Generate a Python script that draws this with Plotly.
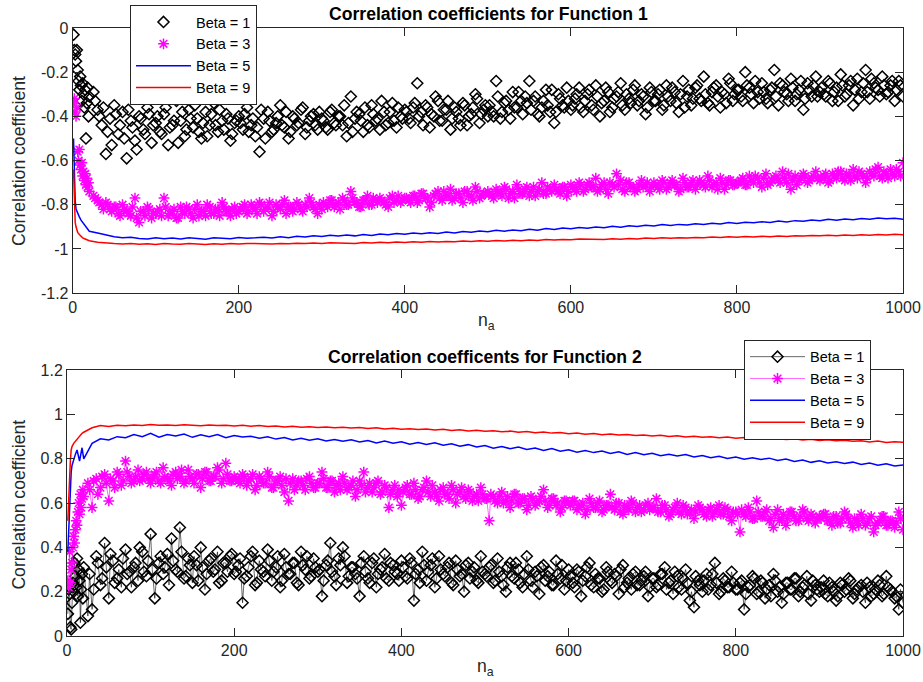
import plotly.graph_objects as go

# ---------------- data ----------------
NA_SCATTER = list(range(1, 21)) + list(range(25, 1001, 5))
NA_SCATTER_MID = list(range(27, 1001, 5))
NA_LINE = [1, 2, 3, 4, 5, 6, 8, 10, 12, 15, 18, 20] + list(range(30, 1001, 10))

F1_BETA1 = [
    -0.03, -0.10, -0.12, -0.15, -0.10, -0.19, -0.24, -0.28, -0.22, -0.26, -0.33, -0.25, -0.30, -0.36, -0.28, -0.50, -0.34, -0.27, -0.40, -0.31,
    -0.29, -0.37, -0.44, -0.57, -0.41, -0.35, -0.48, -0.38, -0.59, -0.42, -0.51, -0.40, -0.46, -0.36, -0.52, -0.43,
    -0.47, -0.39, -0.53, -0.44, -0.33, -0.42, -0.49, -0.37, -0.45, -0.41, -0.50, -0.38, -0.44, -0.34, -0.47, -0.42, -0.39, -0.51, -0.43, -0.40,
    -0.46, -0.36, -0.44, -0.49, -0.56, -0.41, -0.38, -0.47, -0.43, -0.35, -0.45, -0.50, -0.40, -0.44, -0.37, -0.48, -0.42, -0.39, -0.46, -0.41,
    -0.45, -0.38, -0.43, -0.40, -0.44, -0.49, -0.31, -0.41, -0.39, -0.47, -0.44, -0.35, -0.42, -0.46, -0.38, -0.43, -0.34, -0.45, -0.40, -0.37,
    -0.41, -0.36, -0.25, -0.38, -0.35, -0.45, -0.40, -0.33, -0.42, -0.37, -0.46, -0.36, -0.41, -0.34, -0.44, -0.39, -0.30, -0.43, -0.37, -0.40,
    -0.38, -0.24, -0.41, -0.34, -0.37, -0.29, -0.36, -0.33, -0.31, -0.24, -0.33, -0.39, -0.36, -0.28, -0.38, -0.43, -0.30, -0.35, -0.27, -0.37,
    -0.32, -0.27, -0.38, -0.30, -0.35, -0.26, -0.40, -0.33, -0.29, -0.36, -0.31, -0.25, -0.37, -0.32, -0.28, -0.35, -0.30, -0.39, -0.27, -0.33,
    -0.30, -0.37, -0.26, -0.33, -0.29, -0.38, -0.24, -0.31, -0.35, -0.27, -0.32, -0.22, -0.34, -0.29, -0.26, -0.36, -0.30, -0.23, -0.33, -0.28,
    -0.31, -0.20, -0.27, -0.34, -0.29, -0.25, -0.32, -0.28, -0.19, -0.35, -0.26, -0.30, -0.23, -0.33, -0.28, -0.37, -0.25, -0.31, -0.22, -0.29,
    -0.30, -0.24, -0.33, -0.27, -0.21, -0.31, -0.26, -0.35, -0.23, -0.29, -0.19, -0.32, -0.25, -0.28, -0.22, -0.30, -0.26, -0.33, -0.24, -0.31,
]
F1_BETA1_MID = [
    -0.33, -0.40, -0.36, -0.47, -0.53, -0.39, -0.44, -0.50, -0.37, -0.45, -0.55, -0.41, -0.48, -0.39, -0.44,
    -0.40, -0.48, -0.36, -0.45, -0.42, -0.52, -0.38, -0.46, -0.41, -0.35, -0.47, -0.43, -0.49, -0.39, -0.44, -0.37, -0.46, -0.41, -0.48, -0.42,
    -0.43, -0.39, -0.47, -0.41, -0.45, -0.37, -0.50, -0.42, -0.46, -0.40, -0.44, -0.38, -0.47, -0.41, -0.43, -0.36, -0.45, -0.40, -0.44, -0.38,
    -0.42, -0.46, -0.37, -0.44, -0.40, -0.35, -0.43, -0.47, -0.38, -0.42, -0.36, -0.45, -0.39, -0.41, -0.33, -0.44, -0.38, -0.42, -0.36, -0.41,
    -0.38, -0.43, -0.34, -0.40, -0.44, -0.36, -0.39, -0.31, -0.42, -0.37, -0.33, -0.41, -0.38, -0.44, -0.35, -0.40, -0.36, -0.32, -0.39, -0.35,
    -0.35, -0.40, -0.31, -0.38, -0.33, -0.41, -0.36, -0.29, -0.39, -0.34, -0.37, -0.31, -0.40, -0.33, -0.35, -0.28, -0.38, -0.32, -0.36, -0.33,
    -0.35, -0.30, -0.36, -0.33, -0.28, -0.37, -0.31, -0.34, -0.27, -0.38, -0.32, -0.29, -0.35, -0.30, -0.34, -0.26, -0.33, -0.31, -0.36, -0.29,
    -0.33, -0.28, -0.35, -0.31, -0.27, -0.34, -0.30, -0.36, -0.28, -0.32, -0.26, -0.33, -0.30, -0.35, -0.27, -0.31, -0.29, -0.34, -0.25, -0.30,
    -0.28, -0.33, -0.26, -0.30, -0.24, -0.32, -0.29, -0.34, -0.27, -0.31, -0.25, -0.29, -0.33, -0.27, -0.30, -0.24, -0.32, -0.28, -0.26, -0.31,
    -0.27, -0.31, -0.25, -0.29, -0.33, -0.26, -0.30, -0.24, -0.28, -0.32, -0.25, -0.29, -0.23, -0.27, -0.31, -0.26, -0.29, -0.24, -0.28, -0.26,
]

F1_BETA3 = [
    -0.34, -0.32, -0.38, -0.40, -0.36, -0.56, -0.60, -0.55, -0.62, -0.64, -0.61, -0.67, -0.65, -0.69, -0.66, -0.71, -0.68, -0.72, -0.70, -0.74,
    -0.76, -0.78, -0.80, -0.79, -0.82, -0.81, -0.84, -0.80, -0.83, -0.85, -0.77, -0.88, -0.83, -0.81, -0.86, -0.84,
    -0.82, -0.77, -0.85, -0.83, -0.86, -0.81, -0.84, -0.82, -0.86, -0.80, -0.83, -0.85, -0.81, -0.84, -0.82, -0.79, -0.83, -0.85, -0.81, -0.83,
    -0.81, -0.84, -0.80, -0.82, -0.79, -0.83, -0.81, -0.85, -0.80, -0.82, -0.78, -0.81, -0.83, -0.79, -0.82, -0.80, -0.77, -0.81, -0.84, -0.82,
    -0.80, -0.78, -0.81, -0.79, -0.77, -0.80, -0.74, -0.79, -0.81, -0.78, -0.76, -0.80, -0.78, -0.77, -0.79, -0.81, -0.76, -0.78, -0.79, -0.77,
    -0.78, -0.76, -0.79, -0.75, -0.77, -0.81, -0.76, -0.74, -0.78, -0.76, -0.73, -0.77, -0.75, -0.79, -0.74, -0.76, -0.72, -0.77, -0.75, -0.74,
    -0.76, -0.73, -0.75, -0.72, -0.77, -0.74, -0.71, -0.75, -0.73, -0.76, -0.72, -0.74, -0.70, -0.75, -0.73, -0.71, -0.74, -0.72, -0.76, -0.71,
    -0.73, -0.70, -0.74, -0.71, -0.72, -0.68, -0.73, -0.70, -0.75, -0.71, -0.66, -0.69, -0.74, -0.70, -0.72, -0.73, -0.69, -0.71, -0.74, -0.70,
    -0.72, -0.69, -0.73, -0.70, -0.71, -0.74, -0.68, -0.72, -0.70, -0.73, -0.69, -0.71, -0.67, -0.72, -0.70, -0.68, -0.73, -0.69, -0.71, -0.70,
    -0.69, -0.71, -0.67, -0.70, -0.68, -0.72, -0.66, -0.70, -0.68, -0.69, -0.65, -0.70, -0.73, -0.67, -0.69, -0.66, -0.70, -0.68, -0.65, -0.69,
    -0.67, -0.70, -0.66, -0.68, -0.65, -0.69, -0.67, -0.64, -0.68, -0.66, -0.70, -0.65, -0.67, -0.63, -0.68, -0.66, -0.64, -0.67, -0.65, -0.61,
]
F1_BETA3_MID = [
    -0.77, -0.79, -0.82, -0.80, -0.83, -0.81, -0.85, -0.82, -0.84, -0.81, -0.86, -0.83, -0.85, -0.82, -0.84,
    -0.83, -0.85, -0.81, -0.84, -0.82, -0.86, -0.83, -0.81, -0.84, -0.82, -0.85, -0.83, -0.80, -0.84, -0.82, -0.85, -0.81, -0.83, -0.82, -0.84,
    -0.82, -0.80, -0.83, -0.81, -0.84, -0.80, -0.82, -0.79, -0.83, -0.81, -0.80, -0.84, -0.81, -0.82, -0.80, -0.83, -0.81, -0.79, -0.82, -0.80,
    -0.79, -0.81, -0.78, -0.80, -0.82, -0.78, -0.80, -0.77, -0.79, -0.81, -0.78, -0.80, -0.77, -0.79, -0.78, -0.80, -0.77, -0.79, -0.76, -0.78,
    -0.77, -0.79, -0.76, -0.78, -0.75, -0.77, -0.79, -0.75, -0.77, -0.74, -0.76, -0.78, -0.75, -0.77, -0.74, -0.76, -0.78, -0.74, -0.76, -0.75,
    -0.75, -0.77, -0.74, -0.76, -0.73, -0.75, -0.77, -0.73, -0.75, -0.72, -0.74, -0.76, -0.73, -0.75, -0.72, -0.74, -0.73, -0.75, -0.72, -0.74,
    -0.72, -0.74, -0.71, -0.73, -0.70, -0.72, -0.74, -0.71, -0.73, -0.70, -0.72, -0.71, -0.73, -0.70, -0.72, -0.74, -0.71, -0.72, -0.70, -0.72,
    -0.71, -0.73, -0.70, -0.72, -0.69, -0.71, -0.73, -0.70, -0.72, -0.69, -0.71, -0.70, -0.72, -0.69, -0.71, -0.73, -0.70, -0.71, -0.69, -0.71,
    -0.70, -0.68, -0.71, -0.69, -0.67, -0.70, -0.68, -0.71, -0.69, -0.67, -0.70, -0.68, -0.66, -0.69, -0.71, -0.68, -0.67, -0.69, -0.67, -0.68,
    -0.68, -0.66, -0.69, -0.67, -0.65, -0.68, -0.66, -0.69, -0.67, -0.65, -0.67, -0.68, -0.66, -0.64, -0.67, -0.65, -0.68, -0.66, -0.64, -0.67,
]

F1_BETA5 = [
    -0.50, -0.68, -0.78, -0.82, -0.83, -0.84, -0.855, -0.87, -0.88, -0.90, -0.915, -0.92,
    -0.928, -0.938, -0.945, -0.950, -0.947, -0.953, -0.955, -0.949, -0.954, -0.951,
    -0.955, -0.950, -0.953, -0.956, -0.949, -0.952, -0.954, -0.948, -0.952, -0.950,
    -0.947, -0.951, -0.945, -0.949, -0.943, -0.946, -0.940, -0.944, -0.938, -0.942,
    -0.937, -0.941, -0.935, -0.939, -0.933, -0.936, -0.930, -0.934, -0.928, -0.931,
    -0.927, -0.930, -0.924, -0.928, -0.921, -0.925, -0.919, -0.922, -0.916, -0.920,
    -0.914, -0.918, -0.911, -0.915, -0.908, -0.912, -0.905, -0.909, -0.903, -0.906,
    -0.901, -0.904, -0.898, -0.902, -0.895, -0.899, -0.893, -0.896, -0.890, -0.894,
    -0.889, -0.892, -0.886, -0.890, -0.884, -0.887, -0.881, -0.885, -0.879, -0.882,
    -0.877, -0.880, -0.874, -0.878, -0.872, -0.875, -0.869, -0.873, -0.866, -0.870,
    -0.865, -0.868, -0.862, -0.866, -0.860, -0.864, -0.861, -0.866,
]

F1_BETA9 = [
    -0.64, -0.80, -0.88, -0.90, -0.915, -0.925, -0.935, -0.945, -0.95, -0.955, -0.96, -0.963,
    -0.970, -0.974, -0.976, -0.978, -0.975, -0.979, -0.977, -0.980, -0.976, -0.978,
    -0.979, -0.976, -0.978, -0.980, -0.977, -0.979, -0.976, -0.978, -0.975, -0.977,
    -0.976, -0.978, -0.975, -0.977, -0.974, -0.976, -0.973, -0.975, -0.972, -0.974,
    -0.973, -0.975, -0.971, -0.973, -0.970, -0.972, -0.969, -0.971, -0.968, -0.970,
    -0.967, -0.969, -0.966, -0.968, -0.964, -0.966, -0.963, -0.965, -0.962, -0.964,
    -0.961, -0.963, -0.960, -0.962, -0.958, -0.960, -0.957, -0.959, -0.955, -0.957,
    -0.956, -0.958, -0.954, -0.956, -0.953, -0.955, -0.951, -0.953, -0.950, -0.952,
    -0.949, -0.951, -0.948, -0.950, -0.946, -0.948, -0.945, -0.947, -0.944, -0.946,
    -0.943, -0.945, -0.942, -0.944, -0.940, -0.942, -0.939, -0.941, -0.938, -0.940,
    -0.937, -0.939, -0.936, -0.938, -0.935, -0.937, -0.934, -0.936,
]

F2_BETA1 = [
    0.10, 0.21, 0.19, 0.04, 0.03, 0.15, 0.24, 0.20, 0.33, 0.27, 0.22, 0.35, 0.18, 0.30, 0.25, 0.06, 0.21, 0.28, 0.17, 0.31,
    0.09, 0.12, 0.36, 0.23, 0.42, 0.17, 0.34, 0.26, 0.22, 0.39, 0.29, 0.31, 0.25, 0.38, 0.27, 0.46,
    0.17, 0.33, 0.28, 0.37, 0.44, 0.30, 0.49, 0.26, 0.35, 0.24, 0.32, 0.40, 0.21, 0.34, 0.29, 0.38, 0.25, 0.33, 0.36, 0.28,
    0.32, 0.15, 0.27, 0.36, 0.23, 0.34, 0.29, 0.39, 0.25, 0.31, 0.22, 0.37, 0.28, 0.33, 0.24, 0.38, 0.30, 0.26, 0.35, 0.29,
    0.18, 0.32, 0.42, 0.27, 0.35, 0.40, 0.24, 0.31, 0.28, 0.18, 0.36, 0.26, 0.33, 0.22, 0.30, 0.37, 0.25, 0.32, 0.28, 0.34,
    0.27, 0.35, 0.16, 0.30, 0.38, 0.25, 0.32, 0.22, 0.36, 0.28, 0.31, 0.24, 0.34, 0.27, 0.20, 0.33, 0.29, 0.25, 0.36, 0.28,
    0.31, 0.24, 0.35, 0.27, 0.20, 0.33, 0.26, 0.30, 0.22, 0.36, 0.25, 0.29, 0.19, 0.32, 0.27, 0.23, 0.34, 0.26, 0.21, 0.30,
    0.24, 0.30, 0.18, 0.27, 0.33, 0.22, 0.26, 0.20, 0.31, 0.25, 0.28, 0.19, 0.32, 0.24, 0.21, 0.29, 0.23, 0.27, 0.18, 0.26,
    0.22, 0.28, 0.31, 0.24, 0.19, 0.27, 0.21, 0.30, 0.16, 0.13, 0.25, 0.20, 0.28, 0.23, 0.33, 0.19, 0.26, 0.22, 0.29, 0.21,
    0.24, 0.12, 0.22, 0.27, 0.19, 0.25, 0.17, 0.23, 0.28, 0.20, 0.15, 0.24, 0.21, 0.26, 0.18, 0.22, 0.27, 0.16, 0.23, 0.20,
    0.25, 0.18, 0.22, 0.16, 0.24, 0.20, 0.26, 0.17, 0.21, 0.23, 0.15, 0.22, 0.19, 0.25, 0.18, 0.27, 0.21, 0.17, 0.12, 0.15,
]
F2_BETA1_MID = [
    0.28, 0.21, 0.33, 0.26, 0.31, 0.37, 0.24, 0.30, 0.35, 0.28, 0.22, 0.33, 0.40, 0.29, 0.34,
    0.30, 0.26, 0.36, 0.31, 0.23, 0.34, 0.29, 0.38, 0.27, 0.32, 0.36, 0.25, 0.31, 0.28, 0.35, 0.30, 0.24, 0.33, 0.29, 0.37,
    0.29, 0.35, 0.26, 0.31, 0.38, 0.24, 0.30, 0.27, 0.34, 0.29, 0.36, 0.25, 0.31, 0.28, 0.33, 0.23, 0.32, 0.36, 0.27, 0.31,
    0.30, 0.25, 0.34, 0.29, 0.23, 0.32, 0.36, 0.27, 0.31, 0.26, 0.33, 0.29, 0.24, 0.35, 0.28, 0.31, 0.26, 0.33, 0.29, 0.25,
    0.31, 0.26, 0.33, 0.28, 0.24, 0.32, 0.29, 0.35, 0.26, 0.30, 0.27, 0.33, 0.23, 0.30, 0.28, 0.32, 0.26, 0.31, 0.24, 0.29,
    0.27, 0.32, 0.25, 0.29, 0.23, 0.31, 0.27, 0.33, 0.24, 0.28, 0.30, 0.22, 0.27, 0.31, 0.25, 0.29, 0.23, 0.28, 0.32, 0.25,
    0.27, 0.22, 0.29, 0.25, 0.31, 0.23, 0.28, 0.26, 0.21, 0.29, 0.24, 0.27, 0.30, 0.22, 0.26, 0.28, 0.23, 0.25, 0.29, 0.22,
    0.26, 0.23, 0.28, 0.21, 0.25, 0.29, 0.22, 0.26, 0.24, 0.20, 0.27, 0.23, 0.25, 0.21, 0.28, 0.24, 0.20, 0.25, 0.22, 0.24,
    0.21, 0.25, 0.19, 0.23, 0.26, 0.20, 0.24, 0.21, 0.18, 0.25, 0.22, 0.19, 0.24, 0.21, 0.26, 0.20, 0.23, 0.19, 0.25, 0.21,
    0.22, 0.19, 0.24, 0.20, 0.18, 0.23, 0.21, 0.25, 0.19, 0.22, 0.20, 0.24, 0.18, 0.21, 0.23, 0.19, 0.22, 0.20, 0.18, 0.21,
]

F2_BETA3 = [
    0.25, 0.22, 0.38, 0.24, 0.30, 0.33, 0.40, 0.45, 0.42, 0.48, 0.52, 0.50, 0.56, 0.60, 0.55, 0.64, 0.58, 0.62, 0.66, 0.63,
    0.69, 0.58, 0.71, 0.67, 0.73, 0.61, 0.70, 0.74, 0.68, 0.79, 0.72, 0.70, 0.75, 0.71, 0.74, 0.69,
    0.73, 0.70, 0.76, 0.71, 0.68, 0.74, 0.72, 0.69, 0.75, 0.71, 0.73, 0.67, 0.74, 0.70, 0.72, 0.76, 0.69, 0.78, 0.70, 0.72,
    0.70, 0.73, 0.68, 0.71, 0.66, 0.72, 0.69, 0.74, 0.67, 0.70, 0.72, 0.65, 0.61, 0.71, 0.68, 0.70, 0.66, 0.72, 0.67, 0.69,
    0.74, 0.67, 0.70, 0.65, 0.69, 0.72, 0.66, 0.68, 0.63, 0.70, 0.74, 0.67, 0.65, 0.69, 0.64, 0.68, 0.58, 0.66, 0.63, 0.59,
    0.67, 0.64, 0.69, 0.62, 0.66, 0.70, 0.63, 0.65, 0.61, 0.67, 0.64, 0.68, 0.60, 0.65, 0.63, 0.66, 0.61, 0.64, 0.67, 0.62,
    0.52, 0.63, 0.60, 0.65, 0.61, 0.58, 0.64, 0.60, 0.62, 0.57, 0.63, 0.59, 0.61, 0.66, 0.58, 0.62, 0.59, 0.56, 0.61, 0.60,
    0.61, 0.57, 0.59, 0.55, 0.62, 0.58, 0.60, 0.56, 0.59, 0.64, 0.57, 0.60, 0.55, 0.58, 0.61, 0.56, 0.59, 0.57, 0.60, 0.58,
    0.62, 0.56, 0.59, 0.54, 0.57, 0.60, 0.55, 0.58, 0.56, 0.53, 0.59, 0.57, 0.54, 0.58, 0.56, 0.59, 0.55, 0.57, 0.52, 0.56,
    0.47, 0.55, 0.58, 0.53, 0.61, 0.54, 0.56, 0.52, 0.49, 0.57, 0.53, 0.50, 0.56, 0.54, 0.52, 0.57, 0.53, 0.55, 0.51, 0.54,
    0.55, 0.52, 0.50, 0.54, 0.51, 0.56, 0.53, 0.49, 0.52, 0.55, 0.50, 0.53, 0.47, 0.51, 0.54, 0.50, 0.52, 0.49, 0.56, 0.48,
]
F2_BETA3_MID = [
    0.66, 0.70, 0.64, 0.72, 0.69, 0.71, 0.67, 0.73, 0.70, 0.74, 0.69, 0.72, 0.70, 0.73, 0.71,
    0.71, 0.74, 0.69, 0.72, 0.70, 0.73, 0.71, 0.75, 0.70, 0.72, 0.69, 0.73, 0.71, 0.74, 0.70, 0.72, 0.75, 0.71, 0.73, 0.70,
    0.71, 0.69, 0.72, 0.70, 0.73, 0.68, 0.71, 0.69, 0.72, 0.67, 0.70, 0.68, 0.71, 0.69, 0.66, 0.70, 0.68, 0.71, 0.69, 0.67,
    0.69, 0.71, 0.67, 0.70, 0.68, 0.66, 0.69, 0.67, 0.70, 0.66, 0.68, 0.65, 0.69, 0.67, 0.70, 0.65, 0.67, 0.64, 0.68, 0.66,
    0.65, 0.68, 0.64, 0.66, 0.63, 0.67, 0.65, 0.68, 0.63, 0.66, 0.64, 0.62, 0.66, 0.64, 0.67, 0.62, 0.65, 0.63, 0.61, 0.64,
    0.62, 0.64, 0.61, 0.63, 0.60, 0.63, 0.61, 0.64, 0.60, 0.62, 0.59, 0.62, 0.60, 0.63, 0.61, 0.59, 0.62, 0.60, 0.58, 0.61,
    0.59, 0.61, 0.58, 0.60, 0.57, 0.60, 0.58, 0.61, 0.57, 0.59, 0.58, 0.60, 0.56, 0.59, 0.57, 0.60, 0.58, 0.56, 0.59, 0.57,
    0.58, 0.56, 0.59, 0.57, 0.55, 0.58, 0.56, 0.59, 0.55, 0.57, 0.56, 0.58, 0.55, 0.57, 0.54, 0.57, 0.55, 0.58, 0.54, 0.56,
    0.55, 0.57, 0.54, 0.56, 0.53, 0.56, 0.54, 0.57, 0.53, 0.55, 0.52, 0.55, 0.53, 0.56, 0.52, 0.54, 0.56, 0.52, 0.54, 0.53,
    0.53, 0.55, 0.52, 0.54, 0.51, 0.53, 0.55, 0.51, 0.53, 0.50, 0.53, 0.51, 0.54, 0.50, 0.52, 0.54, 0.50, 0.52, 0.51, 0.53,
]

F2_BETA5 = [
    0.38, 0.48, 0.58, 0.68, 0.74, 0.77, 0.80, 0.82, 0.84, 0.79, 0.85, 0.80,
    0.870, 0.890, 0.885, 0.900, 0.895, 0.910, 0.900, 0.915, 0.898, 0.910,
    0.903, 0.912, 0.897, 0.908, 0.900, 0.910, 0.895, 0.905, 0.898, 0.902,
    0.893, 0.900, 0.889, 0.896, 0.885, 0.893, 0.884, 0.890, 0.880, 0.887,
    0.879, 0.886, 0.876, 0.883, 0.872, 0.880, 0.870, 0.877, 0.866, 0.874,
    0.865, 0.872, 0.861, 0.868, 0.857, 0.864, 0.853, 0.860, 0.848, 0.856,
    0.846, 0.853, 0.842, 0.849, 0.838, 0.846, 0.834, 0.841, 0.830, 0.837,
    0.828, 0.835, 0.824, 0.832, 0.820, 0.828, 0.818, 0.825, 0.814, 0.821,
    0.813, 0.819, 0.808, 0.815, 0.805, 0.812, 0.801, 0.808, 0.798, 0.805,
    0.797, 0.803, 0.792, 0.799, 0.788, 0.795, 0.784, 0.791, 0.781, 0.787,
    0.779, 0.785, 0.774, 0.781, 0.771, 0.778, 0.768, 0.772,
]

F2_BETA9 = [
    0.52, 0.62, 0.74, 0.79, 0.84, 0.855, 0.87, 0.88, 0.89, 0.905, 0.915, 0.92,
    0.940, 0.950, 0.946, 0.952, 0.949, 0.953, 0.950, 0.955, 0.951, 0.953,
    0.950, 0.954, 0.951, 0.949, 0.953, 0.950, 0.952, 0.948, 0.951, 0.947,
    0.950, 0.946, 0.948, 0.944, 0.947, 0.943, 0.945, 0.941, 0.944, 0.940,
    0.943, 0.939, 0.941, 0.937, 0.940, 0.935, 0.938, 0.934, 0.936, 0.932,
    0.935, 0.930, 0.933, 0.928, 0.931, 0.926, 0.929, 0.924, 0.927, 0.922,
    0.925, 0.920, 0.923, 0.918, 0.921, 0.916, 0.919, 0.913, 0.917, 0.911,
    0.914, 0.909, 0.912, 0.907, 0.910, 0.905, 0.908, 0.903, 0.906, 0.901,
    0.904, 0.899, 0.902, 0.897, 0.900, 0.895, 0.898, 0.893, 0.896, 0.891,
    0.894, 0.889, 0.892, 0.887, 0.890, 0.885, 0.888, 0.883, 0.886, 0.881,
    0.884, 0.879, 0.882, 0.876, 0.880, 0.874, 0.877, 0.875,
]

for arr in (F1_BETA1, F1_BETA3, F2_BETA1, F2_BETA3):
    assert len(arr) == len(NA_SCATTER), len(arr)
for arr in (F1_BETA1_MID, F1_BETA3_MID, F2_BETA1_MID, F2_BETA3_MID):
    assert len(arr) == len(NA_SCATTER_MID), len(arr)
for arr in (F1_BETA5, F1_BETA9, F2_BETA5, F2_BETA9):
    assert len(arr) == len(NA_LINE), len(arr)

SERIES_NAMES = ["Beta = 1", "Beta = 3", "Beta = 5", "Beta = 9"]
TITLE_1 = "Correlation coefficients for Function 1"
TITLE_2 = "Correlation coefficents for Function 2"
X_LABEL = "n<sub>a</sub>"
Y_LABEL = "Correlation coefficient"
X_TICKS = [0, 200, 400, 600, 800, 1000]
X_TICKTEXT = ["0", "200", "400", "600", "800", "1000"]
Y1_TICKS = [-1.2, -1.0, -0.8, -0.6, -0.4, -0.2, 0.0]
Y1_TICKTEXT = ["-1.2", "-1", "-0.8", "-0.6", "-0.4", "-0.2", "0"]
Y2_TICKS = [0.0, 0.2, 0.4, 0.6, 0.8, 1.0, 1.2]
Y2_TICKTEXT = ["0", "0.2", "0.4", "0.6", "0.8", "1", "1.2"]


def merged(xa, ya, xb, yb):
    pts = sorted(list(zip(xa, ya)) + list(zip(xb, yb)))
    return [p[0] for p in pts], [p[1] for p in pts]


# ---------------- styling ----------------
FONT = "Liberation Sans, Arial, Helvetica, sans-serif"
AXC = "#262626"
BLACK = "#000000"
MAGENTA = "#FF00FF"
BLUE = "#0000FF"
RED = "#FF0000"

W, H = 923, 682
ML, MR, MT, MB = 67, 20, 28, 45.5
PW = W - ML - MR
PH = H - MT - MB


def px_x(px):
    return (px - ML) / PW


def px_y(py):
    return (H - MB - py) / PH


DIAMOND = dict(symbol="diamond-open", size=8.5, color=BLACK, line=dict(width=1.5, color=BLACK))
STAR = dict(symbol="asterisk-open", size=9, color=MAGENTA, line=dict(width=1.5, color=MAGENTA))

fig = go.Figure()

# ----- top subplot -----
x1, y1 = merged(NA_SCATTER, F1_BETA1, NA_SCATTER_MID, F1_BETA1_MID)
fig.add_trace(go.Scatter(x=x1, y=y1, name=SERIES_NAMES[0], mode="markers", marker=DIAMOND,
                         xaxis="x", yaxis="y", legend="legend"))
x3, y3 = merged(NA_SCATTER, F1_BETA3, NA_SCATTER_MID, F1_BETA3_MID)
fig.add_trace(go.Scatter(x=x3, y=y3, name=SERIES_NAMES[1], mode="markers", marker=STAR,
                         xaxis="x", yaxis="y", legend="legend"))
fig.add_trace(go.Scatter(x=NA_LINE, y=F1_BETA5, name=SERIES_NAMES[2], mode="lines",
                         line=dict(color=BLUE, width=1.5), xaxis="x", yaxis="y", legend="legend"))
fig.add_trace(go.Scatter(x=NA_LINE, y=F1_BETA9, name=SERIES_NAMES[3], mode="lines",
                         line=dict(color=RED, width=1.5), xaxis="x", yaxis="y", legend="legend"))

# ----- bottom subplot -----
x1b, y1b = merged(NA_SCATTER, F2_BETA1, NA_SCATTER_MID, F2_BETA1_MID)
fig.add_trace(go.Scatter(x=x1b, y=y1b, name=SERIES_NAMES[0], mode="lines+markers",
                         line=dict(color=BLACK, width=0.6), marker=DIAMOND,
                         xaxis="x2", yaxis="y2", legend="legend2"))
x3b, y3b = merged(NA_SCATTER, F2_BETA3, NA_SCATTER_MID, F2_BETA3_MID)
fig.add_trace(go.Scatter(x=x3b, y=y3b, name=SERIES_NAMES[1], mode="lines+markers",
                         line=dict(color=MAGENTA, width=0.6), marker=STAR,
                         xaxis="x2", yaxis="y2", legend="legend2"))
fig.add_trace(go.Scatter(x=NA_LINE, y=F2_BETA5, name=SERIES_NAMES[2], mode="lines",
                         line=dict(color=BLUE, width=1.5), xaxis="x2", yaxis="y2", legend="legend2"))
fig.add_trace(go.Scatter(x=NA_LINE, y=F2_BETA9, name=SERIES_NAMES[3], mode="lines",
                         line=dict(color=RED, width=1.5), xaxis="x2", yaxis="y2", legend="legend2"))

axis_common = dict(
    showline=True, linecolor=AXC, linewidth=1, mirror="ticks",
    ticks="inside", ticklen=8, tickwidth=1, tickcolor=AXC,
    showgrid=False, zeroline=False,
    tickfont=dict(family=FONT, size=16, color=AXC),
)

top_x0 = px_x(72.7)
top_y0 = px_y(293.3)
bot_y1 = px_y(370.5)

legend_common = dict(xanchor="left", yanchor="top", bgcolor="white", bordercolor=AXC,
                     borderwidth=1, font=dict(family=FONT, size=14.5, color=BLACK),
                     itemwidth=55, tracegroupgap=0)

fig.update_layout(
    width=W, height=H,
    margin=dict(l=ML, r=MR, t=MT, b=MB, autoexpand=False),
    paper_bgcolor="white", plot_bgcolor="white",
    font=dict(family=FONT, size=16, color=AXC),
    xaxis=dict(domain=[top_x0, 1], anchor="y", range=[0, 1000],
               tickvals=X_TICKS, ticktext=X_TICKTEXT, **axis_common),
    yaxis=dict(domain=[top_y0, 1], anchor="x", range=[-1.2, 0],
               tickvals=Y1_TICKS, ticktext=Y1_TICKTEXT, **axis_common),
    xaxis2=dict(domain=[0, 1], anchor="y2", range=[0, 1000],
                tickvals=X_TICKS, ticktext=X_TICKTEXT, **axis_common),
    yaxis2=dict(domain=[0, bot_y1], anchor="x2", range=[0, 1.2],
                tickvals=Y2_TICKS, ticktext=Y2_TICKTEXT, **axis_common),
    legend=dict(x=px_x(130), y=px_y(5), **legend_common),
    legend2=dict(x=px_x(744), y=px_y(340), **legend_common),
    showlegend=True,
)

ann = []
ann.append(dict(text="<b>" + TITLE_1 + "</b>", x=px_x(488), y=px_y(14), xref="paper", yref="paper",
                xanchor="center", yanchor="middle", showarrow=False,
                font=dict(family=FONT, size=17.6, color=BLACK)))
ann.append(dict(text="<b>" + TITLE_2 + "</b>", x=px_x(485), y=px_y(357), xref="paper", yref="paper",
                xanchor="center", yanchor="middle", showarrow=False,
                font=dict(family=FONT, size=17.6, color=BLACK)))
ann.append(dict(text=X_LABEL, x=px_x(487), y=px_y(322), xref="paper", yref="paper",
                xanchor="center", yanchor="middle", showarrow=False,
                font=dict(family=FONT, size=17.6, color=AXC)))
ann.append(dict(text=X_LABEL, x=px_x(485), y=px_y(668), xref="paper", yref="paper",
                xanchor="center", yanchor="middle", showarrow=False,
                font=dict(family=FONT, size=17.6, color=AXC)))
ann.append(dict(text=Y_LABEL, x=px_x(19), y=px_y(161), xref="paper", yref="paper",
                xanchor="center", yanchor="middle", showarrow=False, textangle=-90,
                font=dict(family=FONT, size=17.6, color=AXC)))
ann.append(dict(text=Y_LABEL, x=px_x(19), y=px_y(505), xref="paper", yref="paper",
                xanchor="center", yanchor="middle", showarrow=False, textangle=-90,
                font=dict(family=FONT, size=17.6, color=AXC)))
fig.update_layout(annotations=ann)

fig.write_html("out.html")
